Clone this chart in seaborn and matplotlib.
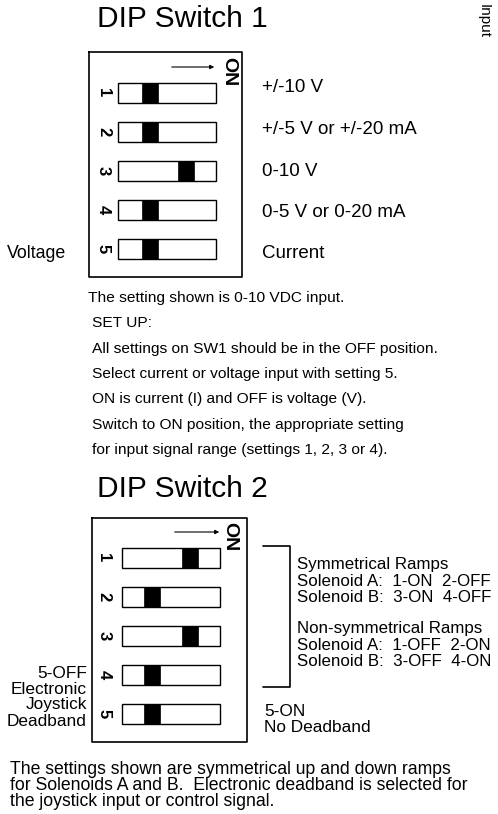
import matplotlib.pyplot as plt
import seaborn as sns

sns.set_theme(style="white")
plt.rcParams["font.family"] = ["Liberation Sans", "DejaVu Sans"]
plt.rcParams["text.color"] = "black"

# switch states, 0 = OFF, 1 = ON
sw1_states = [0, 0, 1, 0, 0]
sw2_states = [1, 0, 1, 0, 0]
switch_numbers = ["1", "2", "3", "4", "5"]

sw1_labels = ["+/-10 V", "+/-5 V or +/-20 mA", "0-10 V", "0-5 V or 0-20 mA", "Current"]

setup_lines = [
    "The setting shown is 0-10 VDC input.",
    "SET UP:",
    "All settings on SW1 should be in the OFF position.",
    "Select current or voltage input with setting 5.",
    "ON is current (I) and OFF is voltage (V).",
    "Switch to ON position, the appropriate setting",
    "for input signal range (settings 1, 2, 3 or 4).",
]

ramp_lines = [
    "Symmetrical Ramps",
    "Solenoid A:  1-ON  2-OFF",
    "Solenoid B:  3-ON  4-OFF",
    "",
    "Non-symmetrical Ramps",
    "Solenoid A:  1-OFF  2-ON",
    "Solenoid B:  3-OFF  4-ON",
]

deadband_off = ["5-OFF", "Electronic", "Joystick", "Deadband"]
deadband_on = ["5-ON", "No Deadband"]

note_lines = [
    "The settings shown are symmetrical up and down ramps",
    "for Solenoids A and B.  Electronic deadband is selected for",
    "the joystick input or control signal.",
]

fig = plt.figure(figsize=(4.98, 8.14), dpi=100)
ax = fig.add_axes([0, 0, 1, 1])
ax.set_xlim(0, 498)
ax.set_ylim(814, 0)
ax.axis("off")


def draw_block(ax, box, sw_left, sw_top, num_x, states, off_x, on_x, arrow, on_pos):
    left, top, right, bottom = box
    ax.plot([left, right, right, left, left], [top, top, bottom, bottom, top],
            color="black", lw=1.2)
    ys = [sw_top + 10 + 39 * i for i in range(len(states))]
    ax.barh(ys, 98, left=sw_left, height=20, color="white",
            edgecolor="black", linewidth=1.0)
    knobs = [on_x if s else off_x for s in states]
    ax.barh(ys, 16, left=knobs, height=20, color="black", edgecolor="black",
            linewidth=0.5)
    for y, n in zip(ys, switch_numbers):
        ax.text(num_x, y, n, rotation=-90, ha="center", va="center",
                fontsize=12, fontweight="bold")
    ax.annotate("", xy=(arrow[1], arrow[2]), xytext=(arrow[0], arrow[2]),
                arrowprops=dict(arrowstyle="-|>", color="black", lw=0.8,
                                mutation_scale=6))
    ax.text(on_pos[0], on_pos[1], "ON", rotation=-90, ha="center",
            va="center", fontsize=14, fontweight="bold")
    return ys


# DIP switch 1
ax.text(182, 19, "DIP Switch 1", ha="center", va="center", fontsize=21.5)
ax.text(484, 4, "Input", rotation=-90, ha="center", va="top", fontsize=11)
ys1 = draw_block(ax, (89, 52, 242, 277), 118, 83, 103.5, sw1_states,
                 142, 178, (169, 217, 67), (229, 72))
for i, lab in enumerate(sw1_labels):
    ax.text(262, 88 + 41.5 * i, lab, ha="left", va="center", fontsize=13.5)
ax.text(7, 253, "Voltage", ha="left", va="center", fontsize=12.8)

for i, line in enumerate(setup_lines):
    x = 88 if i == 0 else 92
    ax.text(x, 298 + 25.3 * i, line, ha="left", va="center", fontsize=11.15)

# DIP switch 2
ax.text(182, 489, "DIP Switch 2", ha="center", va="center", fontsize=21.5)
ys2 = draw_block(ax, (92, 518, 247, 742), 122, 548, 104, sw2_states,
                 144, 182, (172, 222, 532), (230, 537))

ax.plot([263, 290, 290, 263], [546, 546, 687, 687], color="black", lw=1.2)
for i, line in enumerate(ramp_lines):
    ax.text(297, 565 + 16 * i, line, ha="left", va="center", fontsize=12.2)

for i, line in enumerate(deadband_off):
    ax.text(87, 673 + 16 * i, line, ha="right", va="center", fontsize=12.4)
for i, line in enumerate(deadband_on):
    ax.text(264, 712 + 16 * i, line, ha="left", va="center", fontsize=12.4)

for i, line in enumerate(note_lines):
    ax.text(10, 770 + 15.5 * i, line, ha="left", va="center", fontsize=12.7)

fig.savefig("out.png", dpi=100)
